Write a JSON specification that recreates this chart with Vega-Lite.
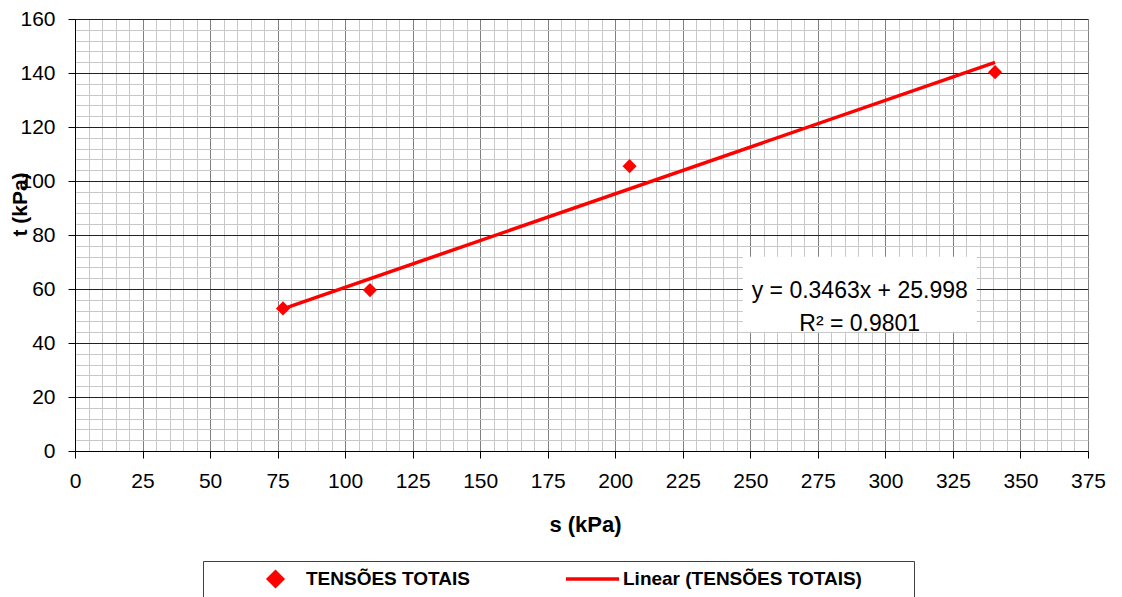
{
  "$schema": "https://vega.github.io/schema/vega-lite/v6.json",
  "width": 1013,
  "height": 432,
  "autosize": {"type": "none"},
  "padding": {"left": 75, "top": 19, "right": 34, "bottom": 146},
  "background": "white",
  "config": {
    "view": {"stroke": null},
    "font": "Liberation Sans",
    "axis": {"labelFont": "Liberation Sans", "titleFont": "Liberation Sans", "labelColor": "#000", "titleColor": "#000", "labelFlush": false, "labelOverlap": false}
  },
  "datasets": {
    "pts": [
      {"s": 77.0, "t": 52.8, "serie": "TENSÕES TOTAIS"},
      {"s": 109.2, "t": 59.6, "serie": "TENSÕES TOTAIS"},
      {"s": 205.3, "t": 105.5, "serie": "TENSÕES TOTAIS"},
      {"s": 340.6, "t": 140.3, "serie": "TENSÕES TOTAIS"}
    ],
    "trend": [
      {"s": 77.0, "t": 52.66, "serie": "Linear (TENSÕES TOTAIS)"},
      {"s": 340.6, "t": 143.95, "serie": "Linear (TENSÕES TOTAIS)"}
    ],
    "eq": [
      {"label": "y = 0.3463x + 25.998\nR² = 0.9801"}
    ]
  },
  "resolve": {"axis": {"x": "independent", "y": "independent"}},
  "layer": [
    {
      "data": {"name": "pts"},
      "mark": {"type": "point", "opacity": 0},
      "encoding": {
        "x": {"field": "s", "type": "quantitative", "scale": {"domain": [0, 375], "nice": false, "zero": false},
          "axis": {"orient": "bottom", "values": [0,5,10,15,20,25,30,35,40,45,50,55,60,65,70,75,80,85,90,95,100,105,110,115,120,125,130,135,140,145,150,155,160,165,170,175,180,185,190,195,200,205,210,215,220,225,230,235,240,245,250,255,260,265,270,275,280,285,290,295,300,305,310,315,320,325,330,335,340,345,350,355,360,365,370,375],
            "grid": true, "gridColor": "#c8c8c8", "gridOpacity": 1, "gridWidth": 1, "labels": false, "ticks": false, "domain": false, "title": null}},
        "y": {"field": "t", "type": "quantitative", "scale": {"domain": [0, 160], "nice": false, "zero": false},
          "axis": {"orient": "left", "values": [0,4,8,12,16,20,24,28,32,36,40,44,48,52,56,60,64,68,72,76,80,84,88,92,96,100,104,108,112,116,120,124,128,132,136,140,144,148,152,156,160],
            "grid": true, "gridColor": "#c8c8c8", "gridOpacity": 1, "gridWidth": 1, "labels": false, "ticks": false, "domain": false, "title": null}}
      }
    },
    {
      "data": {"name": "pts"},
      "mark": {"type": "point", "opacity": 0},
      "encoding": {
        "x": {"field": "s", "type": "quantitative",
          "axis": {"orient": "bottom", "values": [0,25,50,75,100,125,150,175,200,225,250,275,300,325,350,375],
            "grid": true, "gridColor": "#808080", "gridOpacity": 1, "gridWidth": 1,
            "domain": true, "domainColor": "#000", "domainWidth": 1, "ticks": true, "tickColor": "#000", "tickSize": 7, "tickWidth": 1,
            "labelFontSize": 21, "labelPadding": 12,
            "title": "s (kPa)", "titleFontSize": 22, "titleFontWeight": "bold", "titleX": 510, "titleY": 73, "titleBaseline": "middle", "titleAlign": "center"}},
        "y": {"field": "t", "type": "quantitative",
          "axis": {"orient": "left", "values": [0,20,40,60,80,100,120,140,160],
            "grid": true, "gridColor": "#222222", "gridOpacity": 1, "gridWidth": 1,
            "domain": true, "domainColor": "#000", "domainWidth": 1, "ticks": true, "tickColor": "#000", "tickSize": 7, "tickWidth": 1,
            "labelFontSize": 21, "labelPadding": 13,
            "title": "t (kPa)", "titleFontSize": 21, "titleFontWeight": "bold", "titleX": -55, "titleY": 185, "titleAngle": -90, "titleBaseline": "middle", "titleAlign": "center"}}
      }
    },
    {
      "data": {"name": "trend"},
      "mark": {"type": "line", "strokeWidth": 3.5},
      "encoding": {
        "x": {"field": "s", "type": "quantitative", "axis": null},
        "y": {"field": "t", "type": "quantitative", "axis": null},
        "color": {"field": "serie", "type": "nominal", "scale": {"domain": ["TENSÕES TOTAIS", "Linear (TENSÕES TOTAIS)"], "range": ["#ff0000", "#ff0000"]}}
      }
    },
    {
      "data": {"name": "pts"},
      "mark": {"type": "point", "filled": true, "opacity": 1},
      "encoding": {
        "x": {"field": "s", "type": "quantitative", "axis": null},
        "y": {"field": "t", "type": "quantitative", "axis": null},
        "color": {"field": "serie", "type": "nominal", "scale": {"domain": ["TENSÕES TOTAIS", "Linear (TENSÕES TOTAIS)"], "range": ["#ff0000", "#ff0000"]},
          "legend": {"title": " ", "titleOrient": "right", "titlePadding": 44, "titleFontSize": 10,
            "orient": "none", "legendX": 128, "legendY": 542, "direction": "horizontal", "columns": 2, "columnPadding": 58,
            "padding": 8, "strokeColor": "#404040", "fillColor": "white", "clipHeight": 20,
            "labelFont": "Liberation Sans", "labelFontSize": 19, "labelFontWeight": "bold", "labelColor": "#000", "labelOffset": 2, "labelLimit": 500,
            "symbolOffset": 36, "symbolStrokeWidth": 3.5, "symbolStrokeColor": "#ff0000", "symbolFillColor": "#ff0000"}},
        "shape": {"field": "serie", "type": "nominal", "scale": {"domain": ["TENSÕES TOTAIS", "Linear (TENSÕES TOTAIS)"], "range": ["diamond", "stroke"]}},
        "size": {"field": "serie", "type": "nominal", "scale": {"type": "ordinal", "domain": ["TENSÕES TOTAIS", "Linear (TENSÕES TOTAIS)"], "range": [200, 2809]}}
      }
    },
    {
      "data": {"name": "eq"},
      "mark": {"type": "rect", "fill": "white", "stroke": null},
      "encoding": {
        "x": {"datum": 247.2, "type": "quantitative", "axis": null},
        "x2": {"datum": 333.8},
        "y": {"datum": 44.2, "type": "quantitative", "axis": null},
        "y2": {"datum": 71.9}
      }
    },
    {
      "data": {"name": "eq"},
      "mark": {"type": "text", "fontSize": 23, "font": "Liberation Sans", "color": "#000", "lineBreak": "\n", "lineHeight": 33, "align": "center", "baseline": "middle"},
      "encoding": {
        "x": {"datum": 290.5, "type": "quantitative", "axis": null},
        "y": {"datum": 59.25, "type": "quantitative", "axis": null},
        "text": {"field": "label"}
      }
    }
  ]
}
